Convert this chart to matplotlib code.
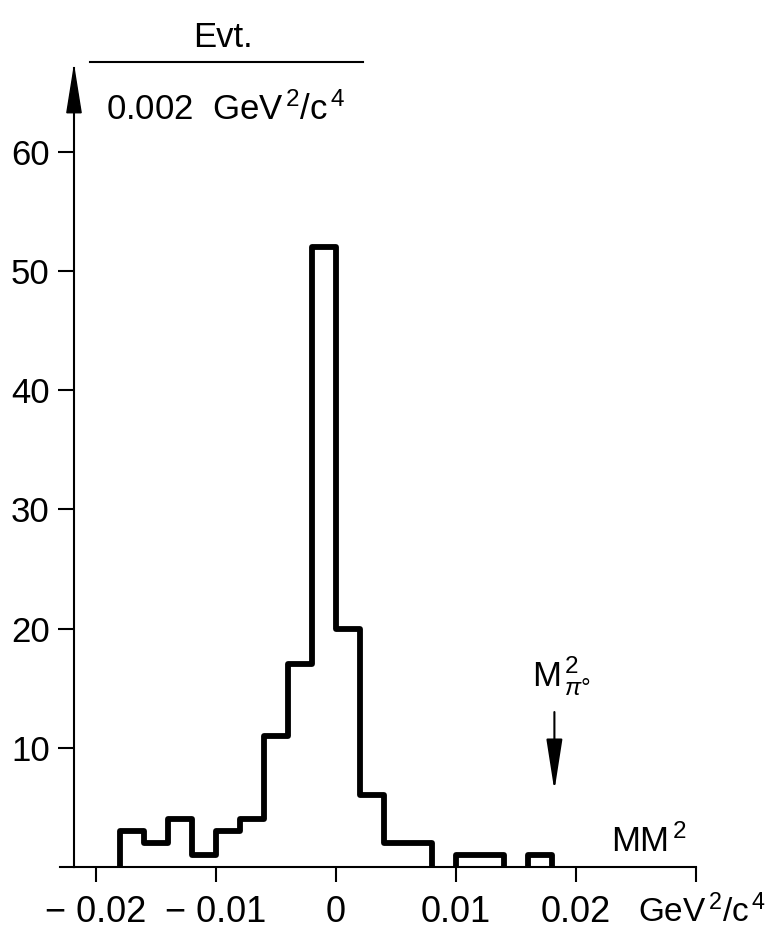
import numpy as np
import matplotlib
matplotlib.use("Agg")
import matplotlib.pyplot as plt
from matplotlib import font_manager as fm
from matplotlib.patches import Polygon

# ---- data ----
bin_edges = np.round(np.arange(-0.018, 0.0181, 0.002), 4)
counts = [3, 2, 4, 1, 3, 4, 11, 17, 52, 20, 6, 2, 2, 0, 1, 1, 0, 1]
x_ticks = [-0.02, -0.01, 0.0, 0.01, 0.02, 0.03]
x_ticklabels = ["\u2212 0.02", "\u2212 0.01", "0", "0.01", "0.02", ""]
y_ticks = [10, 20, 30, 40, 50, 60]
y_ticklabels = ["10", "20", "30", "40", "50", "60"]
m_pi0_sq = 0.0182

# ---- font ----
names = {f.name for f in fm.fontManager.ttflist}
fam = "Liberation Sans" if "Liberation Sans" in names else "DejaVu Sans"
plt.rcParams["font.family"] = [fam, "DejaVu Sans"]
plt.rcParams["mathtext.fontset"] = "custom"
plt.rcParams["mathtext.rm"] = fam
plt.rcParams["mathtext.it"] = fam + ":italic"
plt.rcParams["mathtext.bf"] = fam + ":bold"

W, H = 771, 933
fig = plt.figure(figsize=(W / 100, H / 100), dpi=100)
ax = fig.add_axes([74 / W, 66 / H, 622 / W, 799 / H])
ax.set_xlim(-0.021833, 0.03)
ax.set_ylim(0, 67.03)

for s in ["top", "right"]:
    ax.spines[s].set_visible(False)
for s in ["left", "bottom"]:
    ax.spines[s].set_linewidth(1.5)
    ax.spines[s].set_color("black")

ax.set_xticks(x_ticks)
ax.set_xticklabels(x_ticklabels)
ax.set_yticks(y_ticks)
ax.set_yticklabels(y_ticklabels)
ax.tick_params(axis="x", direction="out", length=11, width=1.5, pad=9, labelsize=26)
ax.tick_params(axis="y", direction="out", length=11.5, width=1.5, pad=6, labelsize=25)

# histogram: contiguous non-zero runs
c = np.array(counts)
i = 0
n = len(c)
while i < n:
    if c[i] == 0:
        i += 1
        continue
    j = i
    while j < n and c[j] > 0:
        j += 1
    ax.stairs(c[i:j], bin_edges[i:j + 1], baseline=0, color="black",
              linewidth=4.2, joinstyle="round", capstyle="butt", zorder=3)
    i = j

# y-axis arrowhead
ax.add_patch(Polygon([[0, 1.0], [-0.0115, 0.944], [0.0115, 0.944]], closed=True,
                     transform=ax.transAxes, color="black", clip_on=False, zorder=5))
# x-axis slight overhang to the left
ax.plot([-0.022, 0], [0, 0], transform=ax.transAxes, color="black", lw=1.5, clip_on=False)

# pi0 mass arrow
ax.annotate("", xy=(m_pi0_sq, 6.4), xytext=(m_pi0_sq, 13.0),
            arrowprops=dict(arrowstyle="-|>,head_length=1.6,head_width=0.25",
                            mutation_scale=20, lw=1.5, color="black",
                            shrinkA=0, shrinkB=0))
ax.text(m_pi0_sq + 0.0006, 14.2, r"M$^{\,2}_{\,\pi°}$", ha="center", va="bottom", fontsize=25)

ax.text(0.0261, 1.3, r"MM$^{\,2}$", ha="center", va="baseline", fontsize=25)

# bottom right unit
fig.text(766 / W, 1 - 922 / H, r"GeV$^{\,2}$/c$^{\,4}$", ha="right", va="baseline", fontsize=24)

# y label as fraction
fig.text(223 / W, 1 - 47 / H, "Evt.", ha="center", va="baseline", fontsize=25)
fig.add_artist(plt.Line2D([90 / W, 363 / W], [1 - 62 / H, 1 - 62 / H], color="black", lw=1.5))
fig.text(226 / W, 1 - 120 / H, r"0.002  GeV$^{\,2}$/c$^{\,4}$", ha="center", va="baseline", fontsize=25)

fig.savefig("out.png", dpi=100)
